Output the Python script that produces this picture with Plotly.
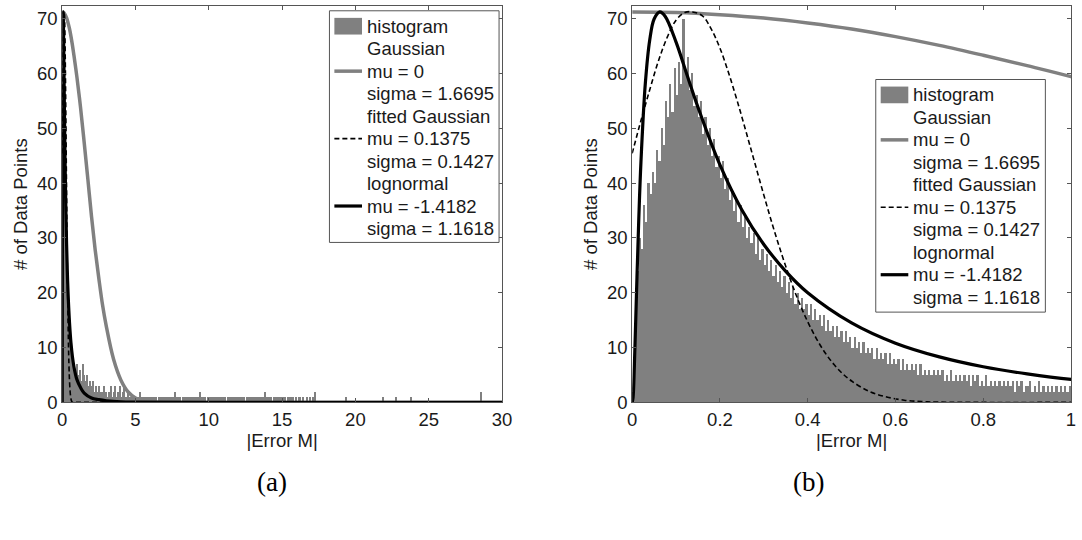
import numpy as np
import plotly.graph_objects as go

# ---------------- data ----------------
# Panel (b): histogram counts, bins of width 0.005 over [0, 1]
right_bin_width = 0.005
right_counts = [
    2, 12, 24, 30, 28, 36, 33, 40, 38, 42,
    40, 46, 44, 50, 47, 55, 52, 58, 53, 61,
    56, 62, 58, 70, 60, 63, 57, 60, 54, 56,
    52, 55, 49, 52, 47, 50, 45, 48, 43, 45,
    41, 44, 39, 41, 37, 39, 35, 37, 33, 36,
    32, 34, 30, 32, 29, 31, 27, 30, 26, 28,
    25, 27, 24, 26, 23, 25, 22, 24, 21, 23,
    20, 22, 19, 21, 18, 20, 17, 19, 17, 18,
    16, 18, 15, 17, 15, 16, 14, 16, 13, 15,
    13, 14, 12, 14, 12, 13, 11, 13, 11, 12,
    10, 12, 10, 11, 9, 11, 9, 10, 9, 10,
    8, 10, 8, 9, 8, 9, 7, 9, 7, 8,
    7, 8, 6, 8, 6, 7, 6, 7, 6, 7,
    5, 7, 5, 6, 5, 6, 5, 6, 5, 6,
    5, 6, 4, 5, 4, 6, 4, 5, 4, 5,
    4, 5, 4, 5, 3, 5, 4, 5, 3, 4,
    3, 5, 3, 4, 3, 4, 3, 4, 3, 4,
    3, 4, 3, 4, 2, 4, 3, 4, 2, 3,
    3, 4, 2, 3, 2, 4, 2, 3, 2, 3,
    2, 3, 2, 3, 2, 3, 2, 3, 2, 3,
]

# Panel (a): histogram heights, bins of width 0.1 over [0, 17.3]
left_bin_width = 0.1
left_counts = [
    58, 68, 42, 27, 18, 12, 9, 7, 6, 5,
    7, 5, 6, 4, 7, 5, 4, 5, 3, 4,
    3, 4, 2, 3, 2, 3, 2, 2, 3, 2,
    2, 1, 2, 3, 1, 2, 3, 1, 2, 3,
    1, 2, 3, 1, 1, 2, 1, 1, 1, 1,
    1, 1, 1, 2, 1, 1, 1, 1, 1, 1,
    1, 1, 1, 1, 1, 0, 1, 1, 1, 1,
    1, 1, 1, 1, 1, 1, 1, 2, 1, 1,
    1, 0, 1, 1, 1, 1, 1, 1, 1, 1,
    1, 1, 1, 1, 2, 1, 1, 1, 0, 1,
    1, 1, 1, 1, 1, 1, 1, 1, 1, 1,
    1, 1, 0, 1, 1, 1, 1, 1, 1, 1,
    1, 1, 1, 1, 1, 0, 1, 1, 1, 1,
    1, 1, 1, 1, 1, 1, 1, 1, 2, 1,
    1, 1, 1, 0, 1, 1, 1, 1, 1, 1,
    1, 1, 1, 0, 1, 1, 1, 1, 0, 1,
    0, 1, 1, 0, 1, 0, 0, 1, 0, 1,
    0, 1, 2,
]
# sparse isolated bars in the far tail of panel (a)
left_tail_x = [19.4, 21.9, 22.8, 23.8, 28.6]
left_tail_y = [1, 1, 1, 1, 2]

# Gaussian (mu = 0, sigma = 1.6695)
gauss_x = [0, 0.1, 0.2, 0.3, 0.4, 0.5, 0.6, 0.7, 0.8, 0.9, 1.0, 1.25, 1.5, 1.75, 2.0,
           2.25, 2.5, 2.75, 3.0, 3.5, 4.0, 4.5, 5.0, 5.5, 6.0, 7.0, 10, 20, 30]
gauss_y = [71.2, 71.1, 70.7, 70.1, 69.2, 68.1, 66.7, 65.1, 63.3, 61.4, 59.4, 53.8, 47.4, 40.7, 33.9,
           27.8, 22.6, 17.8, 14.0, 7.9, 4.1, 1.9, 0.8, 0.3, 0.1, 0.0, 0.0, 0.0, 0.0]

# fitted Gaussian (mu = 0.1375, sigma = 0.1427)
fgauss_x = [0, 0.02, 0.04, 0.06, 0.08, 0.1, 0.12, 0.1375, 0.16, 0.18, 0.2, 0.22, 0.24, 0.26,
            0.28, 0.3, 0.32, 0.34, 0.36, 0.38, 0.4, 0.42, 0.44, 0.46, 0.48, 0.5, 0.54, 0.58,
            0.62, 0.66, 0.7, 0.8, 1.0, 5, 30]
fgauss_y = [45.4, 51.4, 57.0, 62.3, 66.6, 69.7, 71.1, 71.2, 70.5, 68.1, 64.6, 60.0, 54.8, 49.2,
            43.5, 37.8, 32.3, 27.2, 22.5, 18.3, 14.7, 11.6, 9.0, 6.9, 5.2, 3.9, 2.0, 1.0,
            0.4, 0.15, 0.05, 0.0, 0.0, 0.0, 0.0]

# lognormal (mu = -1.4182, sigma = 1.1618)
logn_x = [0, 0.002, 0.005, 0.01, 0.015, 0.02, 0.03, 0.04, 0.05, 0.0628, 0.075, 0.1, 0.125,
          0.15, 0.2, 0.25, 0.3, 0.35, 0.4, 0.5, 0.6, 0.7, 0.8, 0.9, 1.0, 1.25, 1.5, 2.0,
          2.5, 3.0, 4.0, 5.0, 10, 30]
logn_y = [0, 0.9, 6.7, 20.4, 33.3, 43.9, 58.2, 66.1, 69.9, 71.2, 70.4, 65.7, 59.7,
          53.8, 43.3, 35.1, 28.8, 23.9, 20.0, 14.5, 10.8, 8.3, 6.5, 5.2, 4.2, 2.7, 1.7, 0.8,
          0.5, 0.3, 0.1, 0.04, 0.0, 0.0]

legend_lines = ["histogram", "Gaussian", "mu = 0", "sigma = 1.6695", "fitted Gaussian",
                "mu = 0.1375", "sigma = 0.1427", "lognormal", "mu = -1.4182", "sigma = 1.1618"]

# ---------------- figure ----------------
W, H = 1082, 540
GRAY = "#808080"
FONT = "Liberation Sans, Arial, sans-serif"
TXT = "#1a1a1a"

fig = go.Figure()

right_x = np.arange(len(right_counts)) * right_bin_width + right_bin_width / 2
left_x = np.arange(len(left_counts)) * left_bin_width + left_bin_width / 2

# panel (a)
fig.add_trace(go.Bar(x=left_x, y=left_counts, width=left_bin_width, marker=dict(color=GRAY, line=dict(width=0)),
                     xaxis="x", yaxis="y", showlegend=False))
fig.add_trace(go.Bar(x=left_tail_x, y=left_tail_y, width=left_bin_width, marker=dict(color=GRAY, line=dict(width=0)),
                     xaxis="x", yaxis="y", showlegend=False))
fig.add_trace(go.Scatter(x=gauss_x, y=gauss_y, mode="lines", line=dict(color=GRAY, width=3.5, shape="spline"),
                         xaxis="x", yaxis="y", showlegend=False))
fig.add_trace(go.Scatter(x=fgauss_x, y=fgauss_y, mode="lines", line=dict(color="black", width=1.6, dash="5px,3px", shape="spline"),
                         xaxis="x", yaxis="y", showlegend=False))
fig.add_trace(go.Scatter(x=logn_x, y=logn_y, mode="lines", line=dict(color="black", width=3.2, shape="spline"),
                         xaxis="x", yaxis="y", showlegend=False))

# panel (b)
fig.add_trace(go.Bar(x=right_x, y=right_counts, width=right_bin_width, marker=dict(color=GRAY, line=dict(width=0)),
                     xaxis="x2", yaxis="y2", showlegend=False))
fig.add_trace(go.Scatter(x=gauss_x, y=gauss_y, mode="lines", line=dict(color=GRAY, width=3.5, shape="spline"),
                         xaxis="x2", yaxis="y2", showlegend=False))
fig.add_trace(go.Scatter(x=fgauss_x, y=fgauss_y, mode="lines", line=dict(color="black", width=1.6, dash="5px,3px", shape="spline"),
                         xaxis="x2", yaxis="y2", showlegend=False))
fig.add_trace(go.Scatter(x=logn_x, y=logn_y, mode="lines", line=dict(color="black", width=3.2, shape="spline"),
                         xaxis="x2", yaxis="y2", showlegend=False))

def px(x):
    return x / W

def py(y):
    return 1 - y / H

axis_common = dict(showline=True, linecolor="#555555", linewidth=1, mirror="ticks", ticks="inside",
                   ticklen=4, tickcolor="#555555", showgrid=False, zeroline=False,
                   tickfont=dict(family=FONT, size=18.5, color=TXT))
yd = [py(410), py(6)]

fig.update_layout(
    width=W, height=H, margin=dict(l=0, r=0, t=0, b=0),
    paper_bgcolor="white", plot_bgcolor="white", bargap=0, barmode="overlay",
    font=dict(family=FONT, size=18.5, color=TXT),
    xaxis=dict(domain=[px(58), px(504)], range=[0, 30], tickvals=[0, 5, 10, 15, 20, 25, 30], anchor="y",
               title=dict(text="|Error M|", standoff=2, font=dict(family=FONT, size=18.5, color=TXT)), **axis_common),
    yaxis=dict(domain=yd, range=[0, 72.3], tickvals=[0, 10, 20, 30, 40, 50, 60, 70], anchor="x",
               title=dict(text="# of Data Points", standoff=4, font=dict(family=FONT, size=18.5, color=TXT)), **axis_common),
    xaxis2=dict(domain=[px(636), px(1081)], range=[0, 1], tickvals=[0, 0.2, 0.4, 0.6, 0.8, 1.0],
                ticktext=["0", "0.2", "0.4", "0.6", "0.8", "1"], anchor="y2",
                title=dict(text="|Error M|", standoff=2, font=dict(family=FONT, size=18.5, color=TXT)), **axis_common),
    yaxis2=dict(domain=yd, range=[0, 72.3], tickvals=[0, 10, 20, 30, 40, 50, 60, 70], anchor="x2",
                title=dict(text="# of Data Points", standoff=4, font=dict(family=FONT, size=18.5, color=TXT)), **axis_common),
)

shapes = []
annotations = []

def add_legend(x0, y0, x1, y1):
    line_gap = 22.9
    first = y0 + 15.7
    shapes.append(dict(type="rect", xref="paper", yref="paper", x0=px(x0), x1=px(x1), y0=py(y0), y1=py(y1),
                       line=dict(color="#555555", width=1), fillcolor="white", layer="above"))
    sx0, sx1 = x0 + 5, x0 + 33
    # histogram patch
    shapes.append(dict(type="rect", xref="paper", yref="paper", x0=px(sx0), x1=px(sx1),
                       y0=py(first - 8.5), y1=py(first + 8.5), line=dict(width=0), fillcolor=GRAY, layer="above"))
    # Gaussian line
    yy = first + 2 * line_gap
    shapes.append(dict(type="line", xref="paper", yref="paper", x0=px(sx0), x1=px(sx1), y0=py(yy), y1=py(yy),
                       line=dict(color=GRAY, width=3.5), layer="above"))
    yy = first + 5 * line_gap
    shapes.append(dict(type="line", xref="paper", yref="paper", x0=px(sx0), x1=px(sx1), y0=py(yy), y1=py(yy),
                       line=dict(color="black", width=1.6, dash="5px,3px"), layer="above"))
    yy = first + 8 * line_gap
    shapes.append(dict(type="line", xref="paper", yref="paper", x0=px(sx0), x1=px(sx1), y0=py(yy), y1=py(yy),
                       line=dict(color="black", width=3.2), layer="above"))
    for i, t in enumerate(legend_lines):
        annotations.append(dict(text=t, xref="paper", yref="paper", x=px(x0 + 36), y=py(first + i * line_gap),
                                xanchor="left", yanchor="middle", showarrow=False,
                                font=dict(family=FONT, size=18.5, color=TXT)))

add_legend(329, 11, 501, 247)
add_legend(883, 81, 1055, 318)

annotations.append(dict(text="(a)", xref="paper", yref="paper", x=px(271), y=py(491), xanchor="center",
                        yanchor="middle", showarrow=False, font=dict(family="Liberation Serif, Times New Roman, serif", size=27, color="black")))
annotations.append(dict(text="(b)", xref="paper", yref="paper", x=px(815), y=py(491), xanchor="center",
                        yanchor="middle", showarrow=False, font=dict(family="Liberation Serif, Times New Roman, serif", size=27, color="black")))

fig.update_layout(shapes=shapes, annotations=annotations)
fig.write_html("out.html")
